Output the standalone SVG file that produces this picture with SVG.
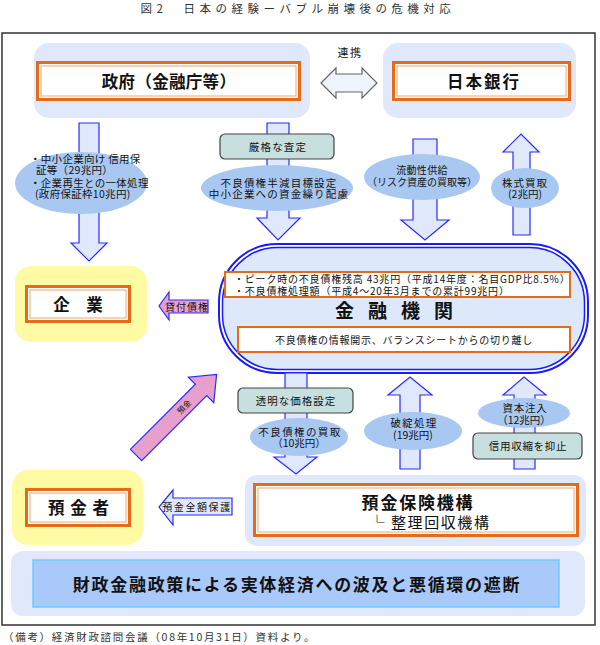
<svg xmlns="http://www.w3.org/2000/svg" width="600" height="645" viewBox="0 0 600 645">
<style>
text { font-family: "Noto Sans CJK JP", "Noto Sans", sans-serif; fill: #111; }
.panel { fill: #dfe9fb; stroke: none; }
.ypanel { fill: #fffaa4; stroke: none; }
.ob { fill: #fff; stroke: #e46c18; stroke-width: 3; }
.oi { fill: none; stroke: #f1a670; stroke-width: 1; }
.arr { fill: #dfe9fb; stroke: #2b2bff; stroke-width: 1.2; }
.pink { fill: #e7a0cc; stroke: #2b2bff; stroke-width: 1.2; }
.ell { fill: #a9c8f1; stroke: none; }
.gbox { fill: #c8dfe0; stroke: #444; stroke-width: 1.2; }
.s10 { font-size: 10.5px; }
.big { font-size: 16.5px; font-weight: bold; }
</style>

<text x="298" y="13" text-anchor="middle" style="font-size:11.5px;letter-spacing:4.5px;fill:#333">図2　日本の経験ーバブル崩壊後の危機対応</text>

<rect x="2" y="33" width="593" height="592" fill="#fff" stroke="#333" stroke-width="1.5"/>

<g id="seifu">
  <rect class="panel" x="34" y="43" width="276" height="75" rx="15"/>
  <rect class="ob" x="37.5" y="62.5" width="262" height="37"/>
  <rect class="oi" x="41" y="66" width="255" height="30"/>
  <text class="big" x="169" y="88" text-anchor="middle" style="letter-spacing:0.3px">政府（金融庁等）</text>
</g>

<g id="nichigin">
  <rect class="panel" x="383" y="43" width="193" height="75" rx="15"/>
  <rect class="ob" x="393.5" y="62.5" width="176" height="37"/>
  <rect class="oi" x="397" y="66" width="169" height="30"/>
  <text class="big" x="484" y="88" text-anchor="middle" style="letter-spacing:2px">日本銀行</text>
</g>

<g id="kigyo">
  <rect class="ypanel" x="15" y="266" width="132" height="76" rx="16"/>
  <rect class="ob" x="26.5" y="286.5" width="103" height="35"/>
  <rect class="oi" x="30" y="290" width="96" height="28"/>
  <text class="big" x="78" y="311" text-anchor="middle">企　業</text>
</g>

<g id="yokinsha">
  <rect class="ypanel" x="12" y="470" width="131" height="75" rx="16"/>
  <rect class="ob" x="26.5" y="489.5" width="103" height="36"/>
  <rect class="oi" x="30" y="493" width="96" height="29"/>
  <text class="big" x="79" y="514" text-anchor="middle" style="letter-spacing:1px">預 金 者</text>
</g>

<g id="kinyu">
  <rect x="219" y="244" width="369" height="129" rx="58" ry="58" fill="#fff" stroke="#1a1aff" stroke-width="2"/>
  <rect x="222.5" y="247.5" width="362" height="122" rx="55" ry="55" fill="#dde8fb" stroke="#1a1aff" stroke-width="1.5"/>
  <rect x="225" y="272" width="345" height="25" fill="#fff" stroke="#e46c18" stroke-width="2"/>
  <text style="font-size:10px;letter-spacing:0.8px"><tspan x="234" y="283">・ピーク時の不良債権残高 43兆円（平成14年度：名目GDP比8.5%）</tspan><tspan x="234" y="295">・不良債権処理額（平成4～20年3月までの累計99兆円）</tspan></text>
  <text x="401" y="318" text-anchor="middle" style="font-size:19px;font-weight:bold;letter-spacing:14px">金融機関</text>
  <rect x="238" y="327" width="332" height="25" fill="#fff" stroke="#e46c18" stroke-width="2"/>
  <text x="404" y="344" text-anchor="middle" style="font-size:10px;letter-spacing:0.75px">不良債権の情報開示、バランスシートからの切り離し</text>
</g>

<g id="dic">
  <rect class="panel" x="245" y="475" width="341" height="71" rx="12"/>
  <rect class="ob" x="254.5" y="484.5" width="323" height="51"/>
  <rect class="oi" x="258" y="488" width="316" height="44"/>
  <text x="418" y="509" text-anchor="middle" style="font-size:17px;font-weight:bold;letter-spacing:1.8px">預金保険機構</text>
  <text x="430" y="528" text-anchor="middle" style="font-size:15px;letter-spacing:1.6px">└ 整理回収機構</text>
</g>

<g id="policy">
  <rect class="panel" x="11" y="551" width="574" height="65" rx="12"/>
  <rect x="33" y="560" width="526" height="47" fill="#a9c9fb" stroke="#6fcbff" stroke-width="1.5"/>
  <text x="297" y="591" text-anchor="middle" style="font-size:17px;font-weight:bold;letter-spacing:1.7px">財政金融政策による実体経済への波及と悪循環の遮断</text>
</g>

<g id="connectors">
  <path class="arr" d="M321,83 L336,68 V74 H362 V68 L377,83 L362,98 V92 H336 V98 Z" style="fill:#eef3fc;stroke:#666"/>
  <path class="arr" d="M79,123 H99 V243 H107 L89,261 L71,243 H79 Z"/>
  <path class="arr" d="M267,123 H289 V218 H300 L278,240 L257,218 H267 Z"/>
  <path class="arr" d="M413,139 H437 V220 H449 L425,240 L401,220 H413 Z"/>
  <path class="arr" d="M513,235 V152 H503 L521,134 L539,152 H530 V235 Z"/>
  <path class="arr" d="M285,373 H307 V457 H317 L296,474 L274,457 H285 Z"/>
  <path class="arr" d="M400,469 V395 H388 L410,377 L432,395 H420 V469 Z"/>
  <path class="arr" d="M514,469 V395 H503 L524,377 L546,395 H535 V469 Z"/>
  <path class="pink" d="M208,300 V313 H169 V320 L159,306 L169,292 V300 Z"/>
  <path class="arr" d="M232,498 V515 H173 V525 L159,507 L173,490 V498 Z"/>
  <g transform="translate(136,455) rotate(-45)">
    <path class="pink" d="M0,-8 H92 V-18 L114,0 L92,18 V8 H0 Z"/>
    <text x="68" y="3" text-anchor="middle" style="font-size:8px">預金</text>
  </g>
</g>

<g id="labels">
  <text x="350" y="57" text-anchor="middle" style="font-size:11px;letter-spacing:1.5px">連携</text>

  <ellipse class="ell" cx="81" cy="183" rx="66" ry="31"/>
  <text class="s10" style="letter-spacing:0.3px"><tspan x="30" y="163">・中小企業向け 信用保</tspan><tspan x="36" y="174">証等（29兆円）</tspan><tspan x="30" y="187">・企業再生との一体処理</tspan><tspan x="35" y="198">(政府保証枠10兆円)</tspan></text>

  <rect class="gbox" x="220" y="134" width="114" height="25" rx="5"/>
  <text class="s10" x="278" y="151" text-anchor="middle" style="letter-spacing:1.2px">厳格な査定</text>
  <ellipse class="ell" cx="277" cy="188" rx="76" ry="23"/>
  <text class="s10" text-anchor="middle" style="letter-spacing:1.2px"><tspan x="279" y="187">不良債権半減目標設定</tspan><tspan x="279" y="198">中小企業への資金繰り配慮</tspan></text>

  <ellipse class="ell" cx="422" cy="177" rx="58" ry="23"/>
  <text text-anchor="middle" style="font-size:10px"><tspan x="422" y="174" style="letter-spacing:0.3px">流動性供給</tspan><tspan x="422" y="186">（リスク資産の買取等）</tspan></text>

  <ellipse class="ell" cx="525" cy="188" rx="34" ry="20"/>
  <text class="s10" text-anchor="middle"><tspan x="525" y="187" style="letter-spacing:1px">株式買取</tspan><tspan x="525" y="198">(2兆円)</tspan></text>

  <text x="187" y="311" text-anchor="middle" style="font-size:10px;letter-spacing:1px">貸付債権</text>
  <text x="197" y="511" text-anchor="middle" style="font-size:10px;letter-spacing:1.6px">預金全額保護</text>

  <rect class="gbox" x="238" y="388" width="115" height="25" rx="5"/>
  <text class="s10" x="296" y="405" text-anchor="middle" style="letter-spacing:1px">透明な価格設定</text>
  <ellipse class="ell" cx="299" cy="437" rx="49" ry="19"/>
  <text class="s10" text-anchor="middle"><tspan x="300" y="436" style="letter-spacing:1.4px">不良債権の買取</tspan><tspan x="299" y="447">（10兆円）</tspan></text>

  <ellipse class="ell" cx="413" cy="431" rx="49" ry="19"/>
  <text class="s10" text-anchor="middle"><tspan x="414" y="427" style="letter-spacing:1.2px">破綻処理</tspan><tspan x="413" y="439">(19兆円)</tspan></text>

  <ellipse class="ell" cx="524" cy="413" rx="46" ry="15"/>
  <text class="s10" text-anchor="middle"><tspan x="525" y="412" style="letter-spacing:0.8px">資本注入</tspan><tspan x="524" y="424">（12兆円）</tspan></text>
  <rect class="gbox" x="473" y="433" width="109" height="26" rx="5"/>
  <text class="s10" x="528" y="450" text-anchor="middle" style="letter-spacing:0.7px">信用収縮を抑止</text>
</g>

<text x="3" y="641" style="font-size:10.5px;letter-spacing:1.7px;fill:#333">（備考）経済財政諮問会議（08年10月31日）資料より。</text>
</svg>
